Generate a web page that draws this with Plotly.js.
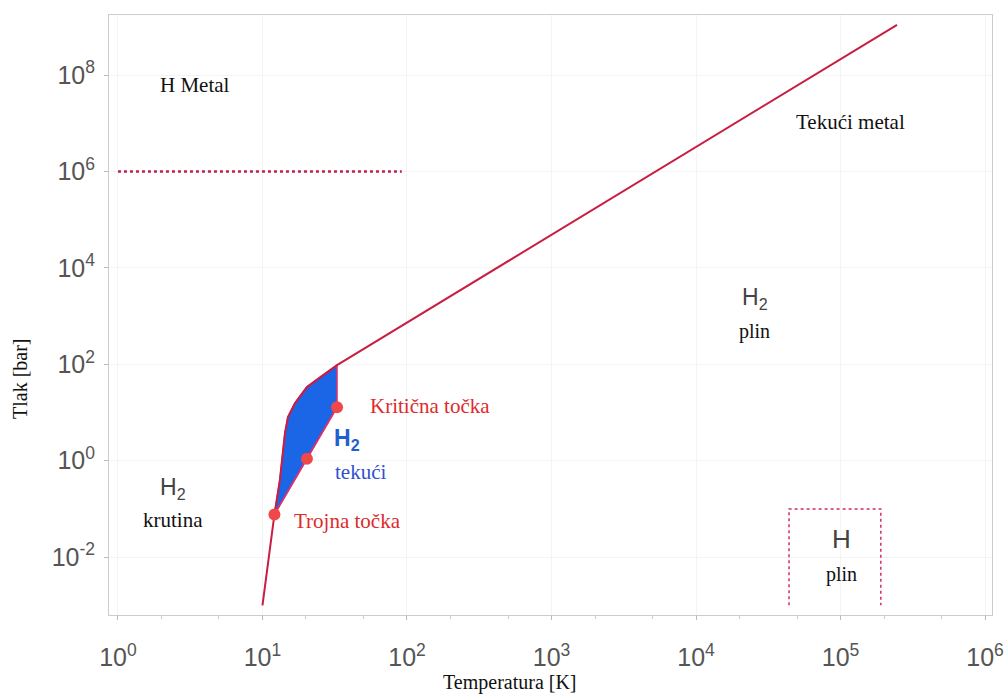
<!DOCTYPE html>
<html>
<head>
<meta charset="utf-8">
<script src="https://cdn.plot.ly/plotly-3.0.1.min.js"></script>
<style>html,body{margin:0;padding:0;background:#fff;}#chart{width:1005px;height:696px;}</style>
</head>
<body>
<div id="chart"></div>
<script>
// Melting line + upper boundary of liquid region, then straight line to the top
const meltT = [10.0, 12.1, 13.2, 14.3, 15.0, 16.8, 20.3, 26.2, 32.8, 246000];
const meltP = [0.001, 0.077, 0.40, 3.7, 8.0, 15.7, 33.7, 59.7, 96, 1.1e9];
// Liquid region outline (blue fill)
const liqT = [12.1, 13.2, 14.3, 15.0, 16.8, 20.3, 26.2, 32.8, 32.8, 20.3, 12.1];
const liqP = [0.077, 0.40, 3.7, 8.0, 15.7, 33.7, 59.7, 96, 12.9, 1.1, 0.077];
// Vaporization curve
const vapT = [12.1, 20.3, 32.8];
const vapP = [0.077, 1.1, 12.9];
// Special points: triple, boiling, critical
const ptT = [12.1, 20.3, 32.8];
const ptP = [0.077, 1.1, 12.9];
// Metal transition dotted line
const metT = [1, 92];
const metP = [1e6, 1e6];
// Atomic H gas box
const boxT = [44000, 44000, 190000, 190000];
const boxP = [0.001, 0.1, 0.1, 0.001];
// Axis ticks
const xTickVals = [1, 10, 100, 1000, 10000, 100000, 1000000];
const xTickText = ['10<sup>0</sup>','10<sup>1</sup>','10<sup>2</sup>','10<sup>3</sup>','10<sup>4</sup>','10<sup>5</sup>','10<sup>6</sup>'];
const yTickVals = [0.01, 1, 100, 1e4, 1e6, 1e8];
const yTickText = ['10<sup>-2</sup>','10<sup>0</sup>','10<sup>2</sup>','10<sup>4</sup>','10<sup>6</sup>','10<sup>8</sup>'];

const red = '#c81e44';
const traces = [
  {x: liqT, y: liqP, mode: 'lines', fill: 'toself', fillcolor: '#1a66e6',
   line: {color: '#e0306a', width: 1.5}, hoverinfo: 'skip'},
  {x: meltT, y: meltP, mode: 'lines', line: {color: red, width: 2}},
  {x: vapT, y: vapP, mode: 'lines', line: {color: '#e0306a', width: 1.5}},
  {x: metT, y: metP, mode: 'lines', line: {color: '#c0204a', width: 2.5, dash: 'dot'}},
  {x: boxT, y: boxP, mode: 'lines', line: {color: '#d0305a', width: 1.5, dash: 'dot'}},
  {x: ptT, y: ptP, mode: 'markers', marker: {color: '#f04848', size: 12}}
];

const serif = 'Liberation Serif, Times New Roman, serif';
const sans = 'Liberation Sans, Arial, sans-serif';
function ann(x, y, text, opts) {
  return Object.assign({x: x, y: y, xref: 'x', yref: 'y', text: text, showarrow: false,
    font: {family: serif, size: 21, color: '#111'}}, opts || {});
}
const annotations = [
  ann(0.533, 7.79, 'H Metal'),
  ann(5.066, 7.02, 'Tekući metal'),
  ann(4.408, 3.37, 'H<sub>2</sub>', {font: {family: sans, size: 23, color: '#444'}}),
  ann(4.408, 2.67, 'plin', {font: {family: serif, size: 20, color: '#111'}}),
  ann(5.01, -1.62, 'H', {font: {family: sans, size: 26, color: '#444'}}),
  ann(5.01, -2.37, 'plin', {font: {family: serif, size: 20, color: '#111'}}),
  ann(0.38, -0.58, 'H<sub>2</sub>', {font: {family: sans, size: 23, color: '#444'}}),
  ann(0.38, -1.23, 'krutina'),
  ann(1.585, 0.45, '<b>H<sub>2</sub></b>', {font: {family: sans, size: 23, color: '#1f5fd0'}}),
  ann(1.675, -0.236, 'tekući', {font: {family: serif, size: 21, color: '#3050d0'}}),
  ann(1.73, 1.133, 'Kritična točka', {xanchor: 'left', font: {family: serif, size: 21, color: '#dd2b2b'}}),
  ann(1.204, -1.253, 'Trojna točka', {xanchor: 'left', font: {family: serif, size: 21, color: '#dd2b2b'}}),
  // axis titles
  {xref: 'paper', yref: 'paper', x: 0.454, y: -0.113, xanchor: 'center', yanchor: 'middle',
   text: 'Temperatura [K]', showarrow: false, font: {family: serif, size: 20, color: '#111'}},
  {xref: 'paper', yref: 'paper', x: -0.1008, y: 0.395, xanchor: 'center', yanchor: 'middle',
   text: 'Tlak [bar]', showarrow: false, textangle: -90, font: {family: serif, size: 20, color: '#111'}}
];

const layout = {
  width: 1005, height: 696,
  margin: {l: 109, r: 13, t: 15, b: 81},
  paper_bgcolor: '#fff', plot_bgcolor: '#fff',
  showlegend: false,
  xaxis: {
    type: 'log', range: [-0.062, 6.048],
    tickvals: xTickVals, ticktext: xTickText,
    tickfont: {family: sans, size: 25, color: '#555'},
    ticklabelstandoff: 16,
    ticks: 'outside', ticklen: 4, tickcolor: '#bbb',
    minor: {ticks: 'outside', ticklen: 3, tickcolor: '#ccc', showgrid: false},
    showgrid: true, gridcolor: '#f4f4f4',
    showline: true, linecolor: '#ccc', mirror: true, zeroline: false
  },
  yaxis: {
    type: 'log', range: [-3.2, 9.245],
    tickvals: yTickVals, ticktext: yTickText,
    tickfont: {family: sans, size: 25, color: '#555'},
    ticklabelstandoff: 4,
    ticks: 'outside', ticklen: 4, tickcolor: '#bbb',
    showgrid: true, gridcolor: '#f4f4f4',
    showline: true, linecolor: '#ccc', mirror: true, zeroline: false
  },
  annotations: annotations
};
Plotly.newPlot('chart', traces, layout, {displayModeBar: false, staticPlot: true});
</script>
</body>
</html>
